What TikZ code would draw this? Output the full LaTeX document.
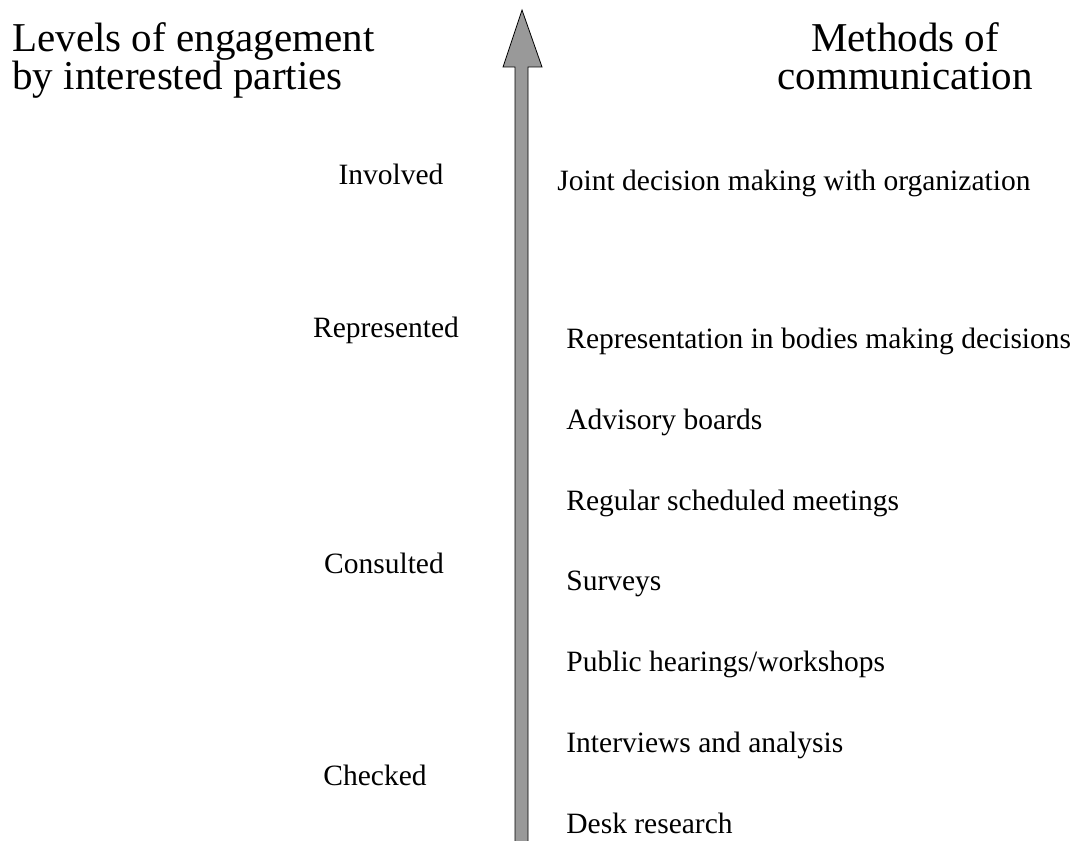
\documentclass[tikz,border=0pt]{standalone}
\usepackage{fontspec}
\setmainfont{Liberation Serif}
\tikzset{
  level/.style={anchor=base, font=\fontsize{29.5}{34}\selectfont},
  method/.style={anchor=base west, font=\fontsize{29.5}{34}\selectfont},
  heading/.style={align=center, font=\fontsize{41}{38}\selectfont}
}
\begin{document}
\begin{tikzpicture}[x=1pt, y=-1pt, every path/.style={thick}]

    \useasboundingbox (0,0) rectangle (1078,840);

    % axis arrow
    \draw[fill=black!40, line join=miter] (515,845) -- (515,67) -- (503,67) -- (522,10) -- (542,67) -- (528,67) -- (528,845) -- cycle;

    \node[heading, align=left, anchor=north west, inner sep=0pt] (levels) at (12,22) {Levels of engagement\\by interested parties};
    \node[heading, anchor=north, inner sep=0pt] (methods) at (905,22) {Methods of\\communication};

    \node[level] (involved) at (391,184) {Involved};
    \node[level] (represented) at (386,337) {Represented};
    \node[level] (consulted) at (384,573) {Consulted};
    \node[level] (checked) at (375,785) {Checked};

    \node[method, inner sep=0pt] (joint) at (557,190) {Joint decision making with organization};
    \node[method, inner sep=0pt] (repr) at (566,348) {Representation in bodies making decisions};
    \node[method, inner sep=0pt] (advisory) at (566,429) {Advisory boards};
    \node[method, inner sep=0pt] (regular) at (566,510) {Regular scheduled meetings};
    \node[method, inner sep=0pt] (surveys) at (566,590) {Surveys};
    \node[method, inner sep=0pt] (public) at (566,671) {Public hearings/workshops};
    \node[method, inner sep=0pt] (interviews) at (566,752) {Interviews and analysis};
    \node[method, inner sep=0pt] (desk) at (566,833) {Desk research};

    \end{tikzpicture}
\end{document}
